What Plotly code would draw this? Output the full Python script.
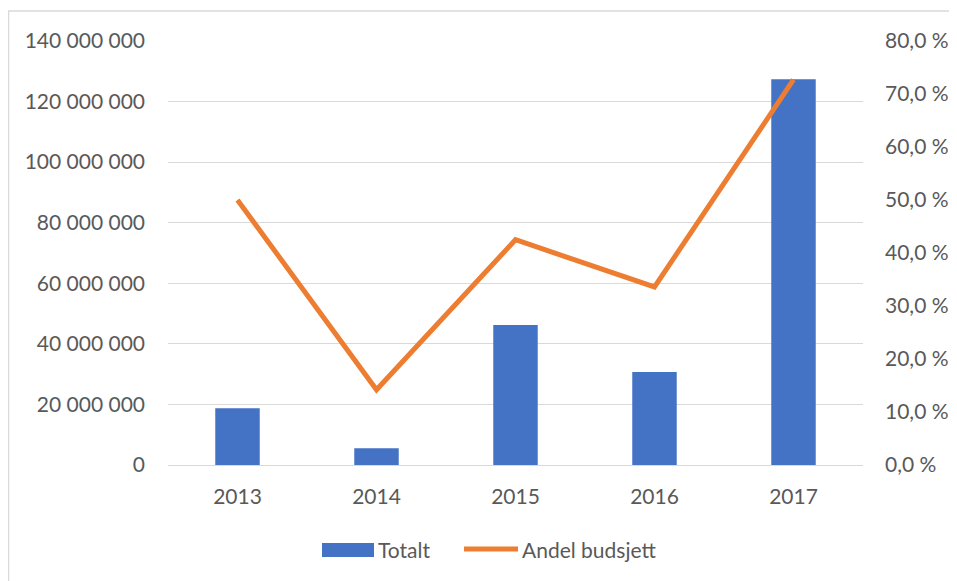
import plotly.graph_objects as go

years = ["2013", "2014", "2015", "2016", "2017"]
totalt = [18_700_000, 5_500_000, 46_200_000, 30_700_000, 127_400_000]
andel = [50.0, 14.2, 42.5, 33.6, 72.7]

left_ticks = [0, 20e6, 40e6, 60e6, 80e6, 100e6, 120e6, 140e6]
left_labels = ["0", "20 000 000", "40 000 000", "60 000 000", "80 000 000",
               "100 000 000", "120 000 000", "140 000 000"]
right_ticks = [0, 10, 20, 30, 40, 50, 60, 70, 80]
right_labels = ["0,0 %", "10,0 %", "20,0 %", "30,0 %", "40,0 %", "50,0 %",
                "60,0 %", "70,0 %", "80,0 %"]

BLUE = "#4472C4"
ORANGE = "#ED7D31"
font_family = "Lato, sans-serif"
txt = "#595959"
FS = 21

# The page body has an 8px margin, so the figure is drawn at (8, 8).
OFF = 8
W, H = 957 - OFF, 581 - OFF
# plot area in screen pixels: x 168..863, y 41..465
PX0, PX1, PY0, PY1 = 168, 863, 41, 465
def px(x):
    return (x - PX0) / (PX1 - PX0)
def py(y):
    return (PY1 - y) / (PY1 - PY0)

fig = go.Figure()
fig.add_trace(go.Bar(x=years, y=totalt, name="Totalt", marker_color=BLUE,
                     marker_line_width=0, yaxis="y", showlegend=False))
fig.add_trace(go.Scatter(x=years, y=andel, name="Andel budsjett", mode="lines",
                         line=dict(color=ORANGE, width=5), yaxis="y2",
                         showlegend=False))

shapes = [
    dict(type="rect", xref="paper", yref="paper",
         x0=px(8.5), x1=px(970), y0=py(600), y1=py(11),
         line=dict(color="#D9D9D9", width=1.5), fillcolor="rgba(0,0,0,0)", layer="below"),
    # legend swatches
    dict(type="rect", xref="paper", yref="paper",
         x0=px(322), x1=px(374), y0=py(557), y1=py(543),
         line=dict(width=0), fillcolor=BLUE),
    dict(type="line", xref="paper", yref="paper",
         x0=px(464), x1=px(518), y0=py(549), y1=py(549),
         line=dict(color=ORANGE, width=5)),
]
annotations = [
    dict(text="Totalt", xref="paper", yref="paper", x=px(376), y=py(549),
         xanchor="left", yanchor="middle", showarrow=False,
         font=dict(size=FS, color=txt, family=font_family)),
    dict(text="Andel budsjett", xref="paper", yref="paper", x=px(520), y=py(549),
         xanchor="left", yanchor="middle", showarrow=False,
         font=dict(size=FS, color=txt, family=font_family)),
]

fig.update_layout(
    width=W, height=H,
    margin=dict(l=PX0 - OFF, r=957 - PX1, t=PY0 - OFF, b=581 - PY1, autoexpand=False),
    paper_bgcolor="white", plot_bgcolor="white",
    font=dict(family=font_family, size=FS, color=txt),
    bargap=0.68,
    showlegend=False,
    xaxis=dict(showgrid=False, showline=False, ticks="", ticklabelstandoff=17,
               automargin=False, tickfont=dict(size=FS, color=txt)),
    yaxis=dict(range=[0, 140e6], tickvals=left_ticks, ticktext=left_labels,
               showgrid=True, gridcolor="#D9D9D9", gridwidth=1.3, zeroline=True,
               zerolinecolor="#D9D9D9", zerolinewidth=1.3, showline=False,
               automargin=False, ticks="", ticklabelstandoff=22,
               tickfont=dict(size=FS, color=txt)),
    yaxis2=dict(range=[0, 80], tickvals=right_ticks, ticktext=right_labels,
                overlaying="y", side="right", showgrid=False, zeroline=False,
                automargin=False, showline=False, ticks="", ticklabelstandoff=21,
                tickfont=dict(size=FS, color=txt)),
    shapes=shapes,
    annotations=annotations,
)

fig.write_html("out.html")
